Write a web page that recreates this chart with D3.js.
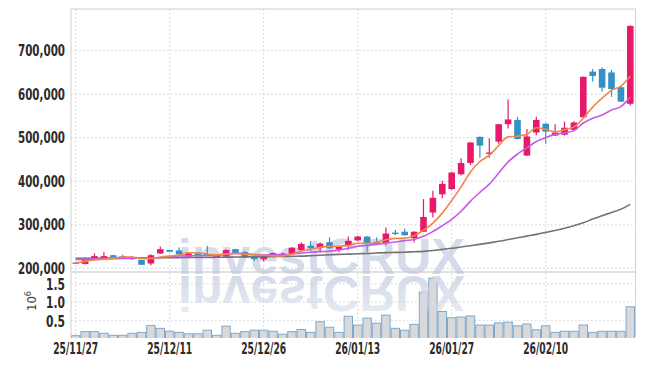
<!DOCTYPE html>
<html><head><meta charset="utf-8">
<script src="https://cdn.jsdelivr.net/npm/d3@7"></script>
<style>
body{margin:0;background:#fff}
svg text{font-family:"DejaVu Sans Condensed","DejaVu Sans",sans-serif}
</style>
</head><body><svg id="c" width="645" height="366"></svg>
<script>
// ---------- data ----------
const dates = ["25/11/27","25/11/28","25/12/01","25/12/02","25/12/03","25/12/04","25/12/05","25/12/08","25/12/09","25/12/10",
"25/12/11","25/12/12","25/12/15","25/12/16","25/12/17","25/12/18","25/12/19","25/12/22","25/12/23","25/12/24",
"25/12/26","25/12/29","25/12/30","26/01/02","26/01/05","26/01/06","26/01/07","26/01/08","26/01/09","26/01/12",
"26/01/13","26/01/14","26/01/15","26/01/16","26/01/19","26/01/20","26/01/21","26/01/22","26/01/23","26/01/26",
"26/01/27","26/01/28","26/01/29","26/01/30","26/02/02","26/02/03","26/02/04","26/02/05","26/02/06","26/02/09",
"26/02/10","26/02/11","26/02/12","26/02/13","26/02/19","26/02/20","26/02/23","26/02/24","26/02/25","26/02/26"];
const open  = [213,210,222,223,230,228,226,219,211,234,242,241,227,234,233,227,227,244,237,228,
               221,226,229,233,242,252,247,260,243,252,264,273,261,258,282,284,269,284,328,370,
               382,416,442,502,463,491,531,541,459,512,532,505,507,518,547,652,658,650,616,578];
const high  = [214,225,234,237,231,231,227,219,232,250,242,248,235,235,251,231,244,245,240,229,
               228,236,236,249,260,263,259,271,251,273,275,274,271,294,288,291,285,359,378,401,
               422,453,490,503,499,532,588,548,520,548,534,531,537,538,641,658,662,656,619,758];
const low   = [210,209,220,220,225,223,219,208,207,233,237,231,226,229,230,225,226,234,224,217,
               216,225,228,232,241,240,237,245,237,242,262,237,254,253,276,275,259,283,317,361,
               380,413,437,454,454,486,521,496,458,506,486,504,505,516,546,629,606,594,582,574];
const close = [211,220,228,228,226,227,221,208,230,244,238,232,234,230,231,229,242,235,225,221,
               227,235,234,247,256,246,257,246,249,263,273,256,256,280,279,276,284,318,362,394,
               420,442,489,482,466,531,542,497,503,541,514,512,523,535,640,642,615,612,583,757];
// volume in millions of shares
const volume = [0.08,0.19,0.19,0.145,0.09,0.09,0.145,0.17,0.36,0.28,0.20,0.17,0.13,0.13,0.23,0.09,0.34,0.145,0.19,0.23,
                0.23,0.20,0.12,0.19,0.25,0.17,0.46,0.31,0.17,0.61,0.37,0.56,0.42,0.64,0.28,0.23,0.39,1.27,1.65,0.74,
                0.57,0.59,0.62,0.37,0.37,0.43,0.45,0.35,0.40,0.24,0.35,0.17,0.20,0.20,0.37,0.17,0.20,0.20,0.20,0.87];
// moving averages (thousand won)
const ma5  = [212,216,219,221,222.8,225.8,226,222,222.4,226,228.2,230.4,235.6,235.6,233,231.2,233.2,233.4,232.4,230.4,
              230,228.6,228.4,232.8,239.8,243.6,248,250.4,250.8,252.2,257.6,257.4,259.4,265.6,268.8,269.4,275,287.4,303.8,326.8,
              355.6,387.2,421.4,445.4,459.8,482,502,503.6,507.8,522.8,519.4,513.4,518.6,525,544.8,570.4,591,608.8,618.4,641.8];
const ma10 = [220,220.5,221,221.5,222,222.5,223,223,223.5,224.4,227,228.2,228.8,229,229.5,229.7,231.8,234.5,234,231.7,
              230.6,230.9,230.9,232.6,235.1,236.8,238.3,239.4,241.8,246,250.6,252.7,254.9,258.2,260.5,263.5,266.2,273.4,284.7,297.8,
              312.5,331.1,354.4,374.6,393.3,418.8,444.6,462.5,476.6,491.3,500.7,507.7,511.1,516.4,533.8,544.9,552.2,563.7,571.7,593.3];
const maLong = [223,223,223,223.2,223.4,223.5,223.6,223.8,224,224.2,224.4,224.6,224.8,225,225,225.3,225.6,225.9,226.2,226.5,
                226.8,227,227.3,227.7,228,229,230,231,232,232.5,233.5,234,235,236,236.5,237,238,239,241,243.5,
                246,249,252,255,258.5,262,266,270,274,278,282.5,287,292,298,304.5,313,321,328,336,347];
const priceTicks = [200000,300000,400000,500000,600000,700000];
const volTicks = [0.5,1.0,1.5];
const tickDates = ["25/11/27","25/12/11","25/12/26","26/01/13","26/01/27","26/02/10"];

// ---------- layout ----------
const L = 71, R = 635, T = 9, SEP = 272, B = 337;
const svg = d3.select("#c");
const x = d3.scaleBand().domain(dates).range([L, R]).padding(0);
const bw = x.bandwidth();
const cx = d => x(d) + bw / 2;
const y = d3.scaleLinear().domain([200000, 700000]).range([268.3, 50.7]);
const yv = d3.scaleLinear().domain([0, 1.5]).range([338.6, 283.7]);

const defs = svg.append("defs");
defs.append("clipPath").attr("id","cp").append("rect").attr("x",L).attr("y",T).attr("width",R-L).attr("height",SEP-T);
defs.append("clipPath").attr("id","cv").append("rect").attr("x",L).attr("y",SEP+1).attr("width",R-L).attr("height",B-SEP);
const grad = defs.append("linearGradient").attr("id","wmfade").attr("gradientUnits","userSpaceOnUse")
  .attr("x1",0).attr("y1",274).attr("x2",0).attr("y2",226);
grad.append("stop").attr("offset",0).attr("stop-color","#d2d8e8").attr("stop-opacity",0.95);
grad.append("stop").attr("offset",1).attr("stop-color","#d2d8e8").attr("stop-opacity",0.4);

const gridCol = "#c9cedd";
// grid
const g = svg.append("g");
g.selectAll(".hg").data(priceTicks).join("line")
  .attr("x1",L).attr("x2",R).attr("y1",d=>y(d)).attr("y2",d=>y(d))
  .attr("stroke",gridCol).attr("stroke-dasharray","1.5,2.5");
g.selectAll(".vg").data(volTicks).join("line")
  .attr("x1",L).attr("x2",R).attr("y1",d=>yv(d)).attr("y2",d=>yv(d))
  .attr("stroke",gridCol).attr("stroke-dasharray","1.5,2.5");
g.selectAll(".xg").data(tickDates).join("line")
  .attr("x1",d=>cx(d)).attr("x2",d=>cx(d)).attr("y1",T).attr("y2",B)
  .attr("stroke",gridCol).attr("stroke-dasharray","1.5,2.5");

// volume bars
svg.append("g").attr("clip-path","url(#cv)").selectAll("rect").data(dates).join("rect")
  .attr("x",d=>x(d)+0.5).attr("width",bw-1)
  .attr("y",(d,i)=>yv(volume[i])).attr("height",(d,i)=>yv(0)-yv(volume[i]))
  .attr("fill","#d9d9d9").attr("stroke","#7ea9cf").attr("stroke-width",1);

// watermark
const wm = svg.append("g");
wm.append("text").attr("x",178).attr("y",274).attr("font-size",50).attr("font-weight","bold")
  .style("font-family","'Liberation Sans',Arial,sans-serif")
  .attr("textLength",287).attr("lengthAdjust","spacingAndGlyphs")
  .attr("fill","#d2d8e8").attr("fill-opacity",0.92).text("investCRUX");
wm.append("g").attr("transform","translate(0,550) scale(1,-1)")
  .append("text").attr("x",178).attr("y",274).attr("font-size",50).attr("font-weight","bold")
  .style("font-family","'Liberation Sans',Arial,sans-serif")
  .attr("textLength",287).attr("lengthAdjust","spacingAndGlyphs")
  .attr("clip-path","url(#cvf)")
  .attr("fill","url(#wmfade)").text("investCRUX");
defs.append("clipPath").attr("id","cvf").append("rect").attr("x",L).attr("y",200).attr("width",R-L).attr("height",75);

// separator
svg.append("line").attr("x1",L).attr("x2",R).attr("y1",SEP).attr("y2",SEP).attr("stroke","#c4c4c4").attr("stroke-width",1.2);

// candles
const up = "#e8196b", down = "#3391c6";
const pc = svg.append("g").attr("clip-path","url(#cp)");
const K = v => v * 1000;
const cg = pc.selectAll(".c").data(dates).join("g");
cg.append("line").attr("x1",d=>cx(d)).attr("x2",d=>cx(d))
  .attr("y1",(d,i)=>y(K(high[i]))).attr("y2",(d,i)=>y(K(low[i])))
  .attr("stroke",(d,i)=>close[i]>=open[i]?up:down).attr("stroke-width",1.2);
cg.append("rect").attr("x",d=>cx(d)-3.3).attr("width",6.6)
  .attr("y",(d,i)=>y(K(Math.max(open[i],close[i]))))
  .attr("height",(d,i)=>Math.max(1.2, Math.abs(y(K(open[i]))-y(K(close[i])))))
  .attr("fill",(d,i)=>close[i]>=open[i]?up:down);

// moving averages
const line = arr => d3.line().x((d,i)=>cx(dates[i])).y(d=>y(K(d))).curve(d3.curveMonotoneX)(arr);
pc.append("path").attr("d",line(maLong)).attr("fill","none").attr("stroke","#737373").attr("stroke-width",1.6);
pc.append("path").attr("d",line(ma10)).attr("fill","none").attr("stroke","#c957ea").attr("stroke-width",1.6);
pc.append("path").attr("d",line(ma5)).attr("fill","none").attr("stroke","#f2874c").attr("stroke-width",1.6);

// frame
svg.append("path").attr("d",`M${L},${B}V${T}H${R+0.5}V${B}`).attr("fill","none").attr("stroke","#cfcfcf").attr("stroke-width",1);

// axes labels
const lab = "#2b2b2b";
const fmt = d3.format(",");
svg.append("g").selectAll("text").data(priceTicks).join("text")
  .attr("x",65).attr("y",d=>y(d)).attr("dy","0.36em").attr("text-anchor","end")
  .attr("font-size",15).attr("font-weight","bold").attr("fill",lab)
  .attr("textLength",47).attr("lengthAdjust","spacingAndGlyphs").text(d=>fmt(d));
svg.append("g").selectAll("text").data(volTicks).join("text")
  .attr("x",65).attr("y",d=>yv(d)+1).attr("dy","0.36em").attr("text-anchor","end")
  .attr("font-size",15).attr("font-weight","bold").attr("fill",lab)
  .attr("textLength",19).attr("lengthAdjust","spacingAndGlyphs").text(d=>d.toFixed(1));
const ut = svg.append("text").attr("transform","translate(36,301) rotate(-90)").attr("text-anchor","middle")
  .attr("font-size",13).attr("fill","#444");
ut.append("tspan").text("10");
ut.append("tspan").attr("dy",-5).attr("font-size",9).text("6");
svg.append("g").selectAll("text").data(tickDates).join("text")
  .attr("x",d=>cx(d)).attr("y",353.7).attr("text-anchor","middle")
  .attr("font-size",15).attr("font-weight","bold").attr("fill",lab)
  .attr("textLength",45).attr("lengthAdjust","spacingAndGlyphs").text(d=>d);
</script>
</body></html>
